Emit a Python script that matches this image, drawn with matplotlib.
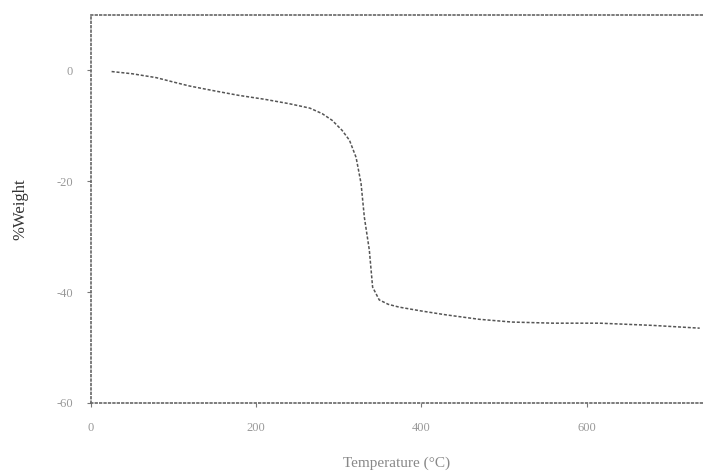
import numpy as np
import matplotlib.pyplot as plt

# TGA curve
temp_c = [25, 50, 79, 100, 119, 150, 179, 210, 240, 265, 280, 292, 304, 313,
          321, 327, 331, 337, 341, 349, 360, 373, 400, 430, 470, 510, 560,
          616, 680, 737]
weight = [-0.2, -0.6, -1.3, -2.1, -2.8, -3.7, -4.5, -5.2, -6.0, -6.8, -7.8,
          -9.0, -10.8, -12.6, -15.7, -20.4, -26.5, -32.4, -39.1, -41.4, -42.2,
          -42.7, -43.4, -44.1, -44.9, -45.4, -45.6, -45.6, -46.0, -46.5]

x_ticks = [0, 200, 400, 600]
y_ticks = [0, -20, -40, -60]

plt.rcParams['font.family'] = ['Liberation Serif', 'DejaVu Serif']

fig = plt.figure(figsize=(7.03, 4.75), dpi=100)
ax = fig.add_axes([0.1294, 0.1516, 0.8706, 0.8168])

ax.plot(temp_c, weight, color='#555555', lw=1.1, ls=(0, (2, 1.2)))

ax.set_xlim(0, 741)
ax.set_ylim(-60, 10)
ax.set_xticks(x_ticks)
ax.set_yticks(y_ticks)
ax.set_xticklabels([str(t) for t in x_ticks])
ax.set_yticklabels(['0', '-20', '-40', '-60'])

for side in ['left', 'bottom', 'top']:
    ax.spines[side].set_linestyle(':')
    ax.spines[side].set_color('#666666')
    ax.spines[side].set_linewidth(1.2)
ax.spines['right'].set_visible(False)

ax.tick_params(direction='out', length=3, width=0.8, color='#777777',
               labelcolor='#999999', labelsize=9)
ax.tick_params(axis='x', pad=11)
ax.tick_params(axis='y', pad=10)

ax.set_xlabel('Temperature (°C)', fontsize=11, color='#888888', labelpad=16)
ax.set_ylabel('%Weight', fontsize=12, color='#333333', labelpad=20)

fig.savefig('out.png', dpi=100)
